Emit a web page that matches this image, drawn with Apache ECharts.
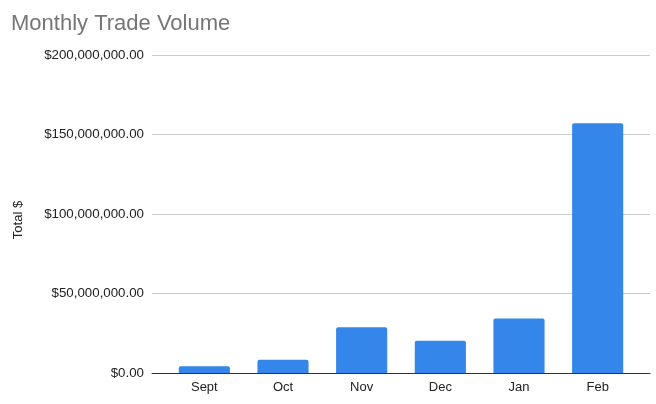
<!DOCTYPE html>
<html>
<head>
<meta charset="utf-8">
<script src="https://cdn.jsdelivr.net/npm/echarts@6/dist/echarts.min.js"></script>
<style>html,body{margin:0;padding:0;background:#fff}#c{width:656px;height:404px}</style>
</head>
<body>
<div id="c"></div>
<script>
const categories = ['Sept', 'Oct', 'Nov', 'Dec', 'Jan', 'Feb'];
const totals = [4200000, 8400000, 28700000, 20300000, 34200000, 157000000];
const yTicks = [0, 50000000, 100000000, 150000000, 200000000];
const yAxisTitle = 'Total $';

const yMax = yTicks[yTicks.length - 1];
const yInterval = yTicks[1] - yTicks[0];
function money(v) {
  return '$' + v.toLocaleString('en-US', {minimumFractionDigits: 2, maximumFractionDigits: 2});
}
const font = 'Arial, "Liberation Sans", sans-serif';
const chart = echarts.init(document.getElementById('c'), null, {renderer: 'canvas'});
chart.setOption({
  animation: false,
  title: {
    text: 'Monthly Trade Volume', left: 6, top: 8,
    textStyle: {color: '#757575', fontSize: 22, fontWeight: 'normal', fontFamily: font}
  },
  graphic: [{
    type: 'text', x: 18, y: 220, rotation: Math.PI / 2,
    style: {text: yAxisTitle, fill: '#222', font: '13px ' + font, align: 'center', verticalAlign: 'middle'}
  }],
  grid: [
    {left: 152, right: 6, top: 55, bottom: 31},
    {left: 165, right: 19, top: 55, bottom: 31}
  ],
  xAxis: [
    {gridIndex: 0, type: 'value', min: 0, max: 1, axisLabel: {show: false}, axisTick: {show: false},
     splitLine: {show: false}, axisLine: {show: true, lineStyle: {color: '#333', width: 1}}},
    {gridIndex: 1, type: 'category', data: categories, axisLine: {show: false}, axisTick: {show: false},
     axisLabel: {color: '#222', fontSize: 13, fontFamily: font, margin: 8}}
  ],
  yAxis: [
    {gridIndex: 0, type: 'value', min: 0, max: yMax, interval: yInterval,
     axisLine: {show: false}, axisTick: {show: false},
     axisLabel: {color: '#222', fontSize: 13.3, fontFamily: font, margin: 8, formatter: money},
     splitLine: {lineStyle: {color: '#cccccc', width: 1}}},
    {gridIndex: 1, type: 'value', min: 0, max: yMax, interval: yInterval, show: false, splitLine: {show: false}}
  ],
  series: [{
    type: 'bar', xAxisIndex: 1, yAxisIndex: 1, data: totals, barWidth: '65%',
    itemStyle: {color: '#3586ea', borderRadius: [2, 2, 0, 0]}
  }]
});
</script>
</body>
</html>
